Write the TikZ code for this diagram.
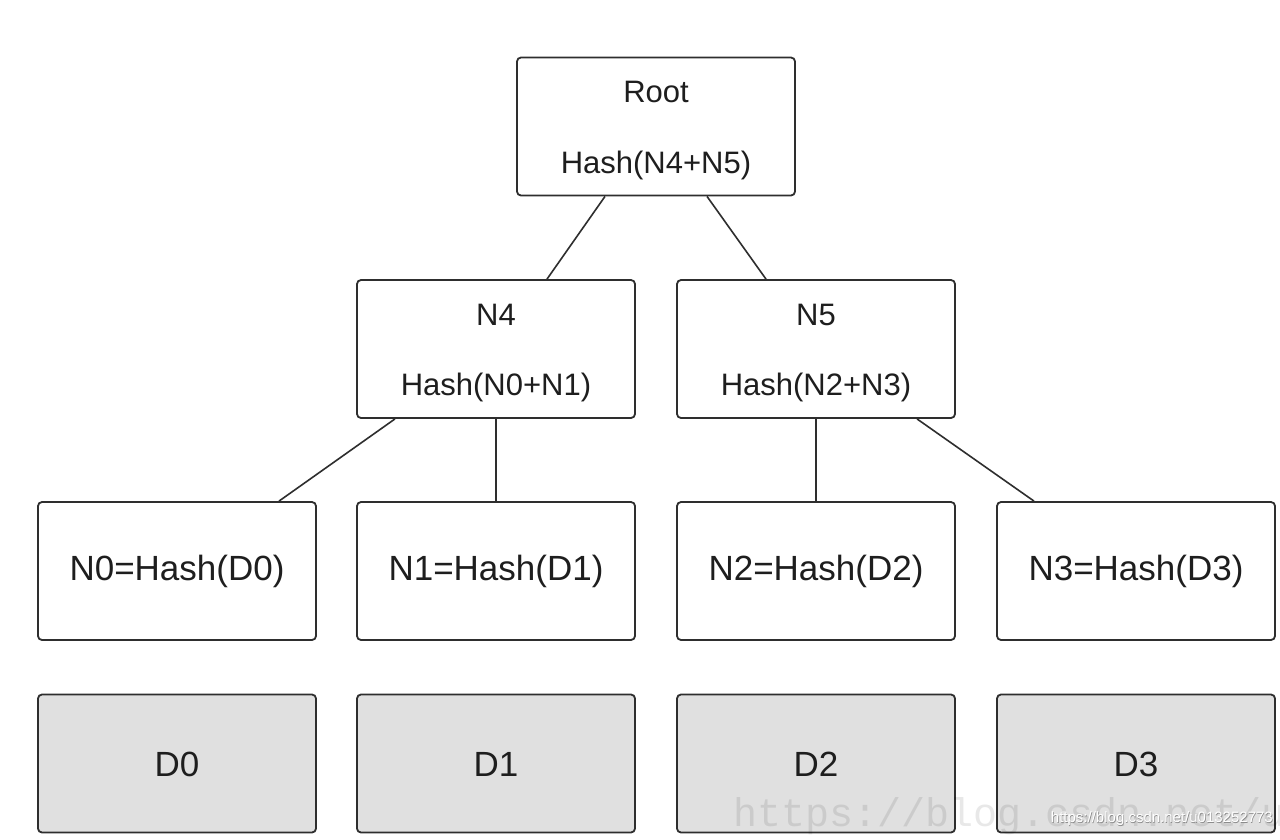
\documentclass[tikz,border=0pt]{standalone}
\usepackage{fontspec}
\setmainfont{Liberation Sans}
\newfontfamily\wmfont{Liberation Mono}
\definecolor{edge}{HTML}{2E2E2E}
\definecolor{datafill}{HTML}{E0E0E0}
\definecolor{ink}{HTML}{1E1E1E}
\tikzset{
  box/.style={draw=edge, line width=1.8pt, rounded corners=4pt, minimum width=278pt, minimum height=138pt, inner sep=0pt, fill=white},
  databox/.style={box, fill=datafill},
  lbl/.style={text=ink, inner sep=0pt, font=\fontsize{31}{31}\selectfont},
  leaftxt/.style={text=ink, inner sep=0pt, font=\fontsize{35}{35}\selectfont},
  conn/.style={draw=edge, line width=1.6pt},
}
\begin{document}
\begin{tikzpicture}[x=1pt,y=-1pt]
\useasboundingbox[fill=white] (0,0) rectangle (1280,839);
% internal nodes
\node[box] (root) at (656,126.5) {};
\node[lbl] (rootA) at (656,92) {Root};
\node[lbl] (rootB) at (656,165) {Hash(N4+N5)};
\node[box] (n4) at (496,349) {};
\node[lbl] (n4A) at (496,315) {N4};
\node[lbl] (n4B) at (496,387) {Hash(N0+N1)};
\node[box] (n5) at (816,349) {};
\node[lbl] (n5A) at (816,315) {N5};
\node[lbl] (n5B) at (816,387) {Hash(N2+N3)};
% leaves
\node[box] (n0) at (177,571) {};
\node[leaftxt] (n0t) at (177,571) {N0=Hash(D0)};
\node[box] (n1) at (496,571) {};
\node[leaftxt] (n1t) at (496,571) {N1=Hash(D1)};
\node[box] (n2) at (816,571) {};
\node[leaftxt] (n2t) at (816,571) {N2=Hash(D2)};
\node[box] (n3) at (1136,571) {};
\node[leaftxt] (n3t) at (1136,571) {N3=Hash(D3)};
% data
\node[databox] (d0) at (177,763.5) {};
\node[leaftxt] (d0t) at (177,764) {D0};
\node[databox] (d1) at (496,763.5) {};
\node[leaftxt] (d1t) at (496,764) {D1};
\node[databox] (d2) at (816,763.5) {};
\node[leaftxt] (d2t) at (816,764) {D2};
\node[databox] (d3) at (1136,763.5) {};
\node[leaftxt] (d3t) at (1136,764) {D3};
% connectors
\draw[conn] ([xshift=-51pt]root.south) -- ([xshift=51pt]n4.north);
\draw[conn] ([xshift=51pt]root.south) -- ([xshift=-50pt]n5.north);
\draw[conn] ([xshift=-101pt]n4.south) -- ([xshift=102pt]n0.north);
\draw[conn] (n4.south) -- (n1.north);
\draw[conn] (n5.south) -- (n2.north);
\draw[conn] ([xshift=101pt]n5.south) -- ([xshift=-102pt]n3.north);
% watermarks
\begin{scope}
\clip (0,0) rectangle (1280,839);
\node[anchor=base west, inner sep=0pt, text=black, opacity=0.09, font=\wmfont\fontsize{40}{40}\selectfont] (wm) at (733,826) {https://blog.csdn.net/u};
\end{scope}
\node[anchor=east, inner sep=0pt, text=black!45, font=\fontsize{15}{15}\selectfont] (wmsh) at (1273.6,819.6) {https://blog.csdn.net/u013252773};
\node[anchor=east, inner sep=0pt, text=white, font=\fontsize{15}{15}\selectfont] (wms) at (1273,819) {https://blog.csdn.net/u013252773};
\end{tikzpicture}
\end{document}
